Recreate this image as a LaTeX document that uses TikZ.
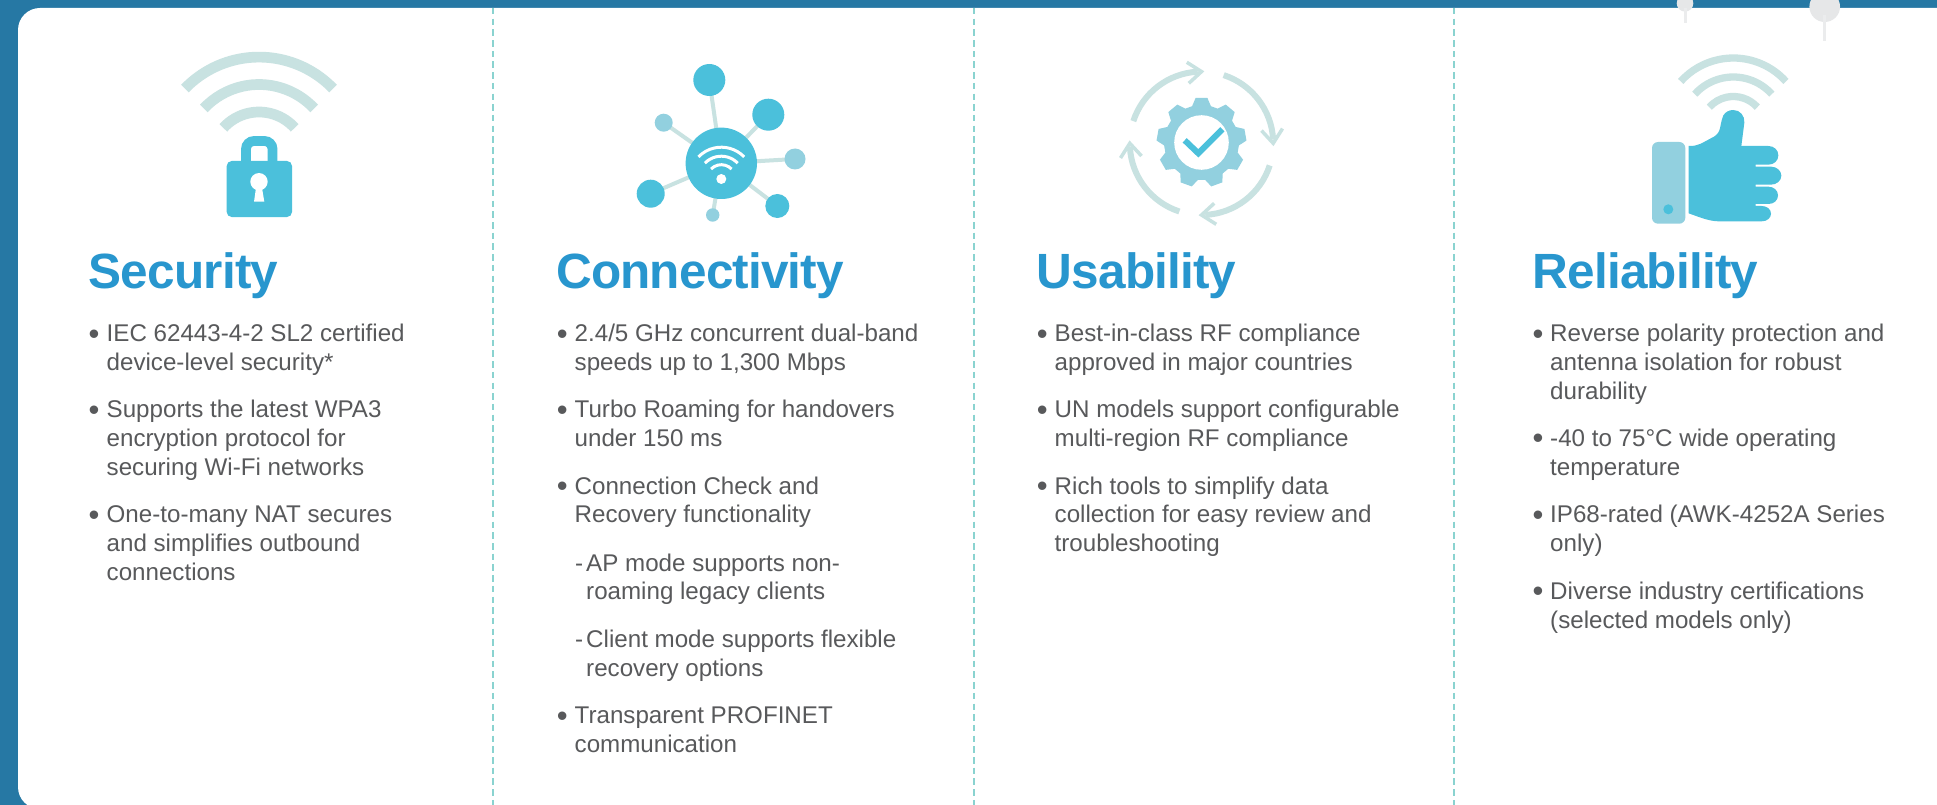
\documentclass[tikz,border=0pt]{standalone}
\usepackage{fontspec}
\setmainfont{Liberation Sans}
\newfontfamily\ttlfont{Liberation Sans}[LetterSpace=-1.7]
\definecolor{barblue}{HTML}{2678A4}
\definecolor{ttlblue}{HTML}{2896CE}
\definecolor{iconcyan}{HTML}{4BC0DB}
\definecolor{iconmid}{HTML}{92D0DF}
\definecolor{iconlight}{HTML}{C8E2E1}
\definecolor{bodygrey}{HTML}{58595B}
\definecolor{dashteal}{HTML}{8AD3D0}
\definecolor{pingrey}{HTML}{E6E7E8}
\tikzset{
  ttl/.style={anchor=base west,inner sep=0pt,text=ttlblue,font=\ttlfont\bfseries\fontsize{49.5}{50}\selectfont},
  txt/.style={anchor=base west,inner sep=0pt,text=bodygrey,font=\fontsize{24.15}{28}\selectfont},
  bul/.style={anchor=base,inner sep=0pt,text=bodygrey,font=\fontsize{31}{31}\selectfont},
  divider/.style={draw=dashteal,line width=2pt,dash pattern=on 6.5pt off 4.2pt},
  wave/.style={draw=iconlight,line cap=butt},
  spoke/.style={draw=iconlight,line width=4pt},
  turn/.style={draw=iconlight,line width=6pt},
  barb/.style={draw=iconlight,line width=3.5pt},
}
% line of text: name, x, baseline y (px from top), text
\newcommand\tline[4]{\node[txt] (#1) at ({#2+1},{-(#3+1)}) {#4};}
% bullet: name, centre x, baseline y of its line
\newcommand\tbul[3]{\node[bul] (#1) at ({#2+0.7},{-(#3+3.3)}) {•};}
% arc: cx, cy, radius, a1, a2, style
\newcommand\warc[6]{\draw[#6] ([shift={(#4:#3)}]#1,#2) arc[start angle=#4,end angle=#5,radius=#3];}
\begin{document}
\begin{tikzpicture}[x=1pt,y=1pt]
\useasboundingbox (0,0) rectangle (1937,-805);
\clip (0,0) rectangle (1937,-805);
% frame and card
\fill[barblue] (0,0) rectangle (1937,-805);
\fill[white] (1937,-8) -- (40,-8) arc[start angle=90,end angle=180,radius=22] -- (18,-787)
  arc[start angle=180,end angle=270,radius=22] -- (1937,-809) -- cycle;
% dividers
\draw[divider] (493,-8) -- (493,-805);
\draw[divider] (973.7,-8) -- (973.7,-805);
\draw[divider] (1454.3,-8) -- (1454.3,-805);
% pins
\fill[pingrey] (1685,-3.3) circle[radius=8.3];
\fill[pingrey] (1824.7,-6.7) circle[radius=15.3];
\draw[pingrey!80!white,line width=3pt] (1685,-8) -- (1685,-22.7);
\draw[pingrey!80!white,line width=3.3pt] (1824.7,-15) -- (1824.7,-40.7);

% ---- Security icon
\warc{259}{-160}{102.9}{44}{136}{wave,line width=10.7pt}
\warc{259}{-160}{75.5}{43}{137}{wave,line width=10.7pt}
\warc{259}{-160}{48}{42}{138}{wave,line width=10.7pt}
\draw[iconcyan,line width=9.8pt,rounded corners=8pt] (246,-165) -- (246,-141) -- (272.5,-141) -- (272.5,-165);
\fill[iconcyan,rounded corners=5pt] (226.7,-161) rectangle (292,-217);
\fill[white] (259,-181.7) circle[radius=8.7];
\fill[white] (256,-188) -- (262,-188) -- (264.3,-201.7) -- (254,-201.7) -- cycle;

% ---- Connectivity icon
\begin{scope}
\coordinate (hub) at (721.3,-163.3);
\draw[spoke] (hub) -- (709.3,-80);
\draw[spoke] (hub) -- (768.3,-114.7);
\draw[spoke] (hub) -- (663.7,-122.7);
\draw[spoke] (hub) -- (795,-159);
\draw[spoke] (hub) -- (777.3,-206);
\draw[spoke] (hub) -- (712.7,-215);
\draw[spoke] (hub) -- (650.7,-193.7);
\fill[iconcyan] (hub) circle[radius=35.7];
\fill[iconcyan] (709.3,-80) circle[radius=16];
\fill[iconcyan] (768.3,-114.7) circle[radius=16];
\fill[iconmid] (663.7,-122.7) circle[radius=9];
\fill[iconmid] (795,-159) circle[radius=10.5];
\fill[iconcyan] (777.3,-206) circle[radius=12];
\fill[iconmid] (712.7,-215) circle[radius=6.7];
\fill[iconcyan] (650.7,-193.7) circle[radius=14];
\warc{721.3}{-179}{31.8}{44}{136}{draw=white,line width=3pt}
\warc{721.3}{-179}{22.8}{44}{136}{draw=white,line width=3pt}
\warc{721.3}{-179}{14.3}{44}{136}{draw=white,line width=3pt}
\fill[white] (721.3,-179) circle[radius=5];
\end{scope}

% ---- Usability icon
\begin{scope}[shift={(1201.5,-142.5)}]
\fill[iconmid] (104.5:37.5)
  \foreach \a in {90,50,10,-30,-70,-110,-150,-190,-230}{
    -- (\a+14.5:37.5) -- (\a+7.5:45) -- (\a-7.5:45) -- (\a-14.5:37.5)
  } -- cycle;
\fill[white] (0,0) circle[radius=27.3];
\end{scope}
\draw[iconcyan,line width=6pt,miter limit=4] (1184.7,-140.3) -- (1198.3,-153.3) -- (1222.3,-129.3);
\begin{scope}[shift={(1201.5,-143.3)}]
\foreach \r in {0,-90,-180,-270}{
  \begin{scope}[rotate=\r]
    \draw[turn] (162:71.7) arc[start angle=162,end angle=93,radius=71.7];
    \draw[barb,line join=miter] (-14.7,81) -- (0,71.7) -- (-12.7,60);
  \end{scope}
}
\end{scope}

% ---- Reliability icon
\warc{1733.3}{-128.8}{70.8}{42}{138}{wave,line width=7.3pt}
\warc{1733.3}{-128.8}{51.8}{42}{138}{wave,line width=7.3pt}
\warc{1733.3}{-128.8}{32.3}{42}{138}{wave,line width=7.3pt}
\fill[iconmid,rounded corners=6pt] (1652,-142) rectangle (1685.3,-223.7);
\fill[iconcyan] (1668.3,-209.3) circle[radius=5];
\begin{scope}[shift={(1440pt,0pt)},x=0.33333pt,y=-0.33333pt]
\fill[iconcyan] (746,438) .. controls (760,438) and (770,437) .. (780,432)
  .. controls (795,425) and (810,416) .. (822,410)
  .. controls (834,402) and (838,395) .. (841,380)
  .. controls (844,365) and (846,355) .. (850,346)
  .. controls (857,335) and (868,330) .. (880,330)
  .. controls (900,330) and (915,348) .. (913,368)
  -- (904,438) -- (985,438)
  .. controls (1002,438) and (1015,450) .. (1015,466)
  .. controls (1015,482) and (1002,494) .. (985,494)
  -- (947,494) -- (947,500) -- (993,500)
  .. controls (1010,500) and (1024,512) .. (1024,527)
  .. controls (1024,542) and (1010,554) .. (993,554)
  -- (947,554) -- (947,560) -- (985,560)
  .. controls (1002,560) and (1014,572) .. (1014,586)
  .. controls (1014,601) and (1002,612) .. (985,612)
  -- (947,612) -- (947,618) -- (965,618)
  .. controls (981,618) and (993,628) .. (993,641)
  .. controls (993,654) and (981,664) .. (965,664)
  -- (835,664) .. controls (805,663) and (780,652) .. (746,640) -- cycle;
\end{scope}

% ---- Titles
\node[ttl] (tsec) at (88.5,-288) {Security};
\node[ttl] (tcon) at (556,-288) {Connectivity};
\node[ttl] (tusa) at (1036.5,-288) {Usability};
\node[ttl] (trel) at (1532.5,-288) {Reliability};

% ---- Column 1
\tbul{b11}{93.3}{340.7}
\tline{a1}{105.5}{340.7}{IEC 62443-4-2 SL2 certified}
\tline{a2}{105.5}{369.3}{device-level security*}
\tbul{b12}{93.3}{416.7}
\tline{a3}{105.5}{416.7}{Supports the latest WPA3}
\tline{a4}{105.5}{445.7}{encryption protocol for}
\tline{a5}{105.5}{474.7}{securing Wi-Fi networks}
\tbul{b13}{93.3}{521.7}
\tline{a6}{105.5}{521.7}{One-to-many NAT secures}
\tline{a7}{105.5}{550.7}{and simplifies outbound}
\tline{a8}{105.5}{579.3}{connections}

% ---- Column 2
\tbul{b21}{561.7}{340.7}
\tline{c1}{573.5}{340.7}{2.4/5 GHz concurrent dual-band}
\tline{c2}{573.5}{369.3}{speeds up to 1,300 Mbps}
\tbul{b22}{561.7}{416.7}
\tline{c3}{573.5}{416.7}{Turbo Roaming for handovers}
\tline{c4}{573.5}{445.7}{under 150 ms}
\tbul{b23}{561.7}{493.3}
\tline{c5}{573.5}{493.3}{Connection Check and}
\tline{c6}{573.5}{521.7}{Recovery functionality}
\tline{c7}{574}{570}{-\kern3pt AP mode supports non-}
\tline{c8}{585}{598.7}{roaming legacy clients}
\tline{c9}{574}{646.7}{-\kern3pt Client mode supports flexible}
\tline{c10}{585}{675.3}{recovery options}
\tbul{b24}{561.7}{722.7}
\tline{c11}{573.5}{722.7}{Transparent PROFINET}
\tline{c12}{573.5}{751.7}{communication}

% ---- Column 3
\tbul{b31}{1041.7}{340.7}
\tline{u1}{1053.5}{340.7}{Best-in-class RF compliance}
\tline{u2}{1053.5}{369.3}{approved in major countries}
\tbul{b32}{1041.7}{416.7}
\tline{u3}{1053.5}{416.7}{UN models support configurable}
\tline{u4}{1053.5}{445.7}{multi-region RF compliance}
\tbul{b33}{1041.7}{493.3}
\tline{u5}{1053.5}{493.3}{Rich tools to simplify data}
\tline{u6}{1053.5}{521.7}{collection for easy review and}
\tline{u7}{1053.5}{550}{troubleshooting}

% ---- Column 4
\tbul{b41}{1537.3}{340.7}
\tline{r1}{1549}{340.7}{Reverse polarity protection and}
\tline{r2}{1549}{369.3}{antenna isolation for robust}
\tline{r3}{1549}{398}{durability}
\tbul{b42}{1537.3}{445.3}
\tline{r4}{1549}{445.3}{-40 to 75°C wide operating}
\tline{r5}{1549}{474}{temperature}
\tbul{b43}{1537.3}{521.7}
\tline{r6}{1549}{521.7}{IP68-rated (AWK-4252A Series}
\tline{r7}{1549}{550.7}{only)}
\tbul{b44}{1537.3}{598.3}
\tline{r8}{1549}{598.3}{Diverse industry certifications}
\tline{r9}{1549}{627.3}{(selected models only)}
\end{tikzpicture}
\end{document}
